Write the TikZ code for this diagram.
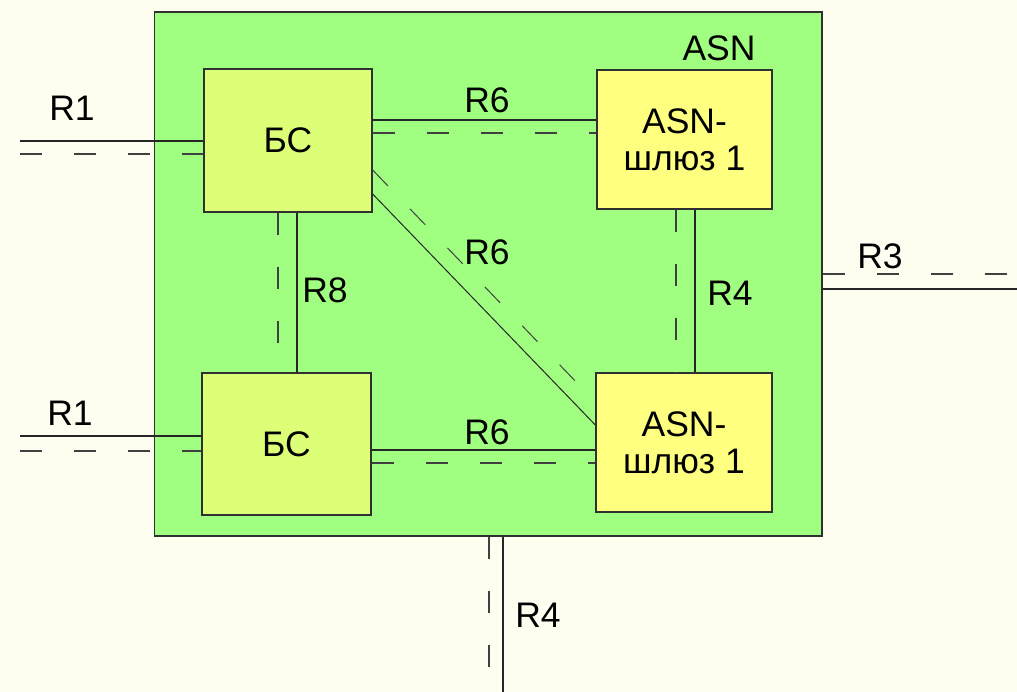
\documentclass[tikz,border=0pt]{standalone}
\usepackage{fontspec}
\setmainfont{Liberation Sans}
\definecolor{bgc}{HTML}{FFFCF0}
\definecolor{asnc}{HTML}{A0FF80}
\definecolor{bsc}{HTML}{DDFF77}
\definecolor{gwc}{HTML}{FFFF80}
\definecolor{edgec}{HTML}{303030}
\begin{document}
\begin{tikzpicture}[x=1pt,y=-1pt,
  lbl/.style={font=\fontsize{35.5}{35.5}\selectfont, inner sep=0pt},
  box/.style={draw=edgec, line width=1.3pt, inner sep=0pt, align=center,
    font=\fontsize{35.5}{37}\selectfont},
  sline/.style={draw=black!85, line width=1.2pt},
  dline/.style={draw=black!75, line width=1.2pt, dash pattern=on 22pt off 32pt}]
\useasboundingbox (0,0) rectangle (1017,692);
\fill[bgc] (0,0) rectangle (1017,692);
% ASN region
\node[box, fill=asnc, minimum width=667.5pt, minimum height=524pt] (asn) at (488.25,274) {};
\node[lbl] (asnlbl) at (719,48) {ASN};
% boxes
\node[box, fill=bsc, minimum width=168pt, minimum height=143pt] (bs1) at (288,140.5) {БС};
\node[box, fill=gwc, minimum width=175pt, minimum height=139pt] (gw1) at (684.5,139.5) {ASN-\\шлюз 1};
\node[box, fill=bsc, minimum width=169pt, minimum height=142pt] (bs2) at (286.5,444) {БС};
\node[box, fill=gwc, minimum width=176pt, minimum height=139pt] (gw2) at (684,442.5) {ASN-\\шлюз 1};
% free ends
\coordinate (r1a) at (20,141);
\coordinate (r1b) at (20,154);
\coordinate (r1c) at (20,436);
\coordinate (r1d) at (20,451);
\coordinate (r3a) at (1017,274);
\coordinate (r3b) at (1017,289);
\coordinate (r4a) at (489,692);
\coordinate (r4b) at (503,692);
% R1 lines
\draw[sline] (r1a) -- (bs1.west |- r1a);
\draw[dline] (r1b) -- (bs1.west |- r1b);
\draw[sline] (r1c) -- (bs2.west |- r1c);
\draw[dline] (r1d) -- (bs2.west |- r1d);
% R6 top
\draw[sline] (bs1.east |- 0,120) -- (gw1.west |- 0,120);
\draw[dline] (bs1.east |- 0,133) -- (gw1.west |- 0,133);
% R6 bottom
\draw[sline] (bs2.east |- 0,450) -- (gw2.west |- 0,450);
\draw[dline] (bs2.east |- 0,463) -- (gw2.west |- 0,463);
% R6 diagonal
\draw[sline, line width=1pt] (bs1.east |- 0,194) -- (gw2.west |- 0,425);
\draw[dline, line width=1pt] (bs1.east |- 0,170) -- (gw2.west |- 0,402);
% R8
\draw[sline] (bs1.south -| 297,0) -- (bs2.north -| 297,0);
\draw[dline] (bs1.south -| 278,0) -- (bs2.north -| 278,0);
% R4 right
\draw[sline] (gw1.south -| 695,0) -- (gw2.north -| 695,0);
\draw[dline] (gw1.south -| 676,0) -- (gw2.north -| 676,0);
% R3
\draw[dline] (asn.east |- r3a) -- (r3a);
\draw[sline] (asn.east |- r3b) -- (r3b);
% R4 bottom
\draw[dline] (asn.south -| r4a) -- (r4a);
\draw[sline] (asn.south -| r4b) -- (r4b);
% labels
\node[lbl] (l1) at (72,108) {R1};
\node[lbl] (l2) at (70,413) {R1};
\node[lbl] (l3) at (487,100) {R6};
\node[lbl] (l4) at (487,252) {R6};
\node[lbl] (l5) at (325,290) {R8};
\node[lbl] (l6) at (730,293) {R4};
\node[lbl] (l7) at (880,256) {R3};
\node[lbl] (l8) at (487,432) {R6};
\node[lbl] (l9) at (538,615) {R4};
\end{tikzpicture}
\end{document}
